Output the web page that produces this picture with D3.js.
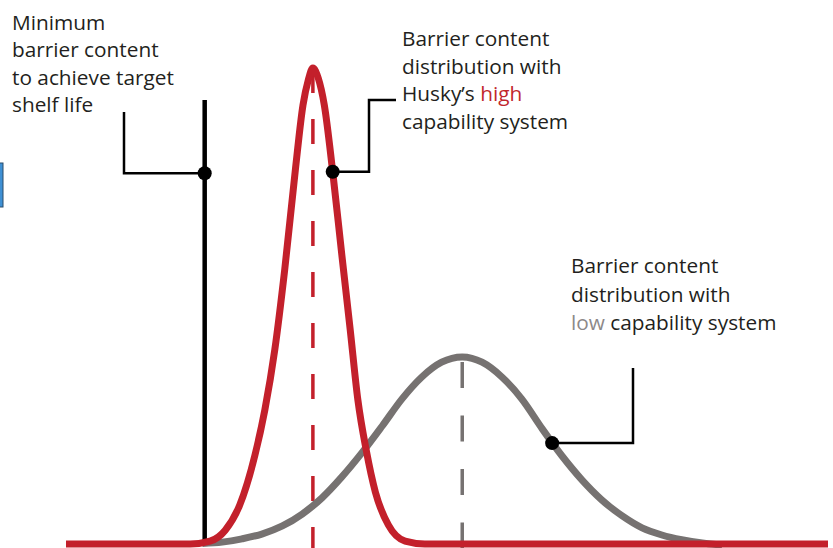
<!DOCTYPE html>
<html>
<head>
<meta charset="utf-8">
<script src="https://cdn.jsdelivr.net/npm/d3@7/dist/d3.min.js"></script>
<style>
  html, body { margin: 0; padding: 0; background: #ffffff; }
  svg { display: block; }
  text { font-family: "Open Sans", "Noto Sans", sans-serif; }
</style>
</head>
<body>
<svg id="chart" width="833" height="548"></svg>
<script>
// ---- Data ----
// x: barrier content (0–100 relative units), y: relative frequency (0–1)
const highCapX = [0, 16.3, 18.9, 20.9, 22.8, 24.8, 26.1, 27.4, 28.7, 30.1, 31.1, 31.8, 32.4, 33.1, 33.9, 35.0, 36.2, 37.3, 38.3, 39.4, 40.6, 42.3, 44.5, 47.1, 100];
const highCapY = [0, 0, 0.006, 0.029, 0.082, 0.187, 0.282, 0.408, 0.576, 0.786, 0.922, 0.975, 1.0, 0.979, 0.922, 0.782, 0.607, 0.450, 0.303, 0.197, 0.109, 0.040, 0.006, 0, 0];

const lowCapX = [17.9, 20.5, 23.1, 25.7, 28.4, 31.0, 33.6, 36.2, 38.9, 41.5, 44.1, 46.7, 49.3, 52.0, 54.6, 57.2, 59.8, 62.5, 65.1, 67.7, 70.3, 73.0, 75.6, 78.2, 80.8, 83.5, 86.1];
const lowCapY = [0.003, 0.006, 0.013, 0.023, 0.040, 0.065, 0.099, 0.143, 0.195, 0.250, 0.307, 0.353, 0.384, 0.395, 0.384, 0.353, 0.307, 0.244, 0.187, 0.137, 0.095, 0.061, 0.036, 0.021, 0.011, 0.004, 0];

const highCapMean = 32.4;
const lowCapMean = 52.0;
const minBarrier = 18.2;
const minBarrierTop = 0.933;

const labelMin = ["Minimum", "barrier content", "to achieve target", "shelf life"];
const labelHigh = [[["Barrier content", "dark"]], [["distribution with", "dark"]], [["Husky’s ", "dark"], ["high", "red"]], [["capability system", "dark"]]];
const labelLow = [[["Barrier content", "dark"]], [["distribution with", "dark"]], [["low", "grey"], [" capability system", "dark"]]];

// ---- Styles ----
const RED = "#c3202b";
const GREY = "#767271";
const DARK = "#231f20";
const textColors = { dark: DARK, red: "#c1272d", grey: "#8d8989" };

const svg = d3.select("#chart");
const x = d3.scaleLinear().domain([0, 100]).range([66, 828]);
const y = d3.scaleLinear().domain([0, 1]).range([544, 68]);

const highData = highCapX.map((v, i) => [v, highCapY[i]]);
const lowData = lowCapX.map((v, i) => [v, lowCapY[i]]);

const line = d3.line().x(d => x(d[0])).y(d => y(d[1])).curve(d3.curveMonotoneX);

// small blue tab at left edge
svg.append("rect").attr("x", -2).attr("y", 163).attr("width", 5).attr("height", 44)
  .attr("fill", "#3f90d4").attr("stroke", "#2b4d6b").attr("stroke-width", 1);

// minimum barrier line
svg.append("line")
  .attr("x1", x(minBarrier)).attr("x2", x(minBarrier))
  .attr("y1", y(minBarrierTop)).attr("y2", y(0))
  .attr("stroke", "#000").attr("stroke-width", 4.5);

// mean dashed lines
svg.append("line")
  .attr("x1", x(highCapMean)).attr("x2", x(highCapMean))
  .attr("y1", y(1)).attr("y2", 548)
  .attr("stroke", RED).attr("stroke-width", 3.5)
  .attr("stroke-dasharray", "25,26");
svg.append("line")
  .attr("x1", x(lowCapMean)).attr("x2", x(lowCapMean))
  .attr("y1", y(0.395) + 6).attr("y2", 548)
  .attr("stroke", GREY).attr("stroke-width", 3.5)
  .attr("stroke-dasharray", "26,27.5");

// curves
svg.append("path").datum(lowData).attr("d", line)
  .attr("fill", "none").attr("stroke", GREY).attr("stroke-width", 7)
  .attr("stroke-linecap", "butt").attr("transform", "translate(0,1)");
svg.append("path").datum(highData).attr("d", line)
  .attr("fill", "none").attr("stroke", RED).attr("stroke-width", 7)
  .attr("stroke-linejoin", "round");

// callouts
function callout(points) {
  svg.append("path")
    .attr("d", d3.line()(points))
    .attr("fill", "none").attr("stroke", "#000").attr("stroke-width", 2.5);
}
const minDot = [x(minBarrier), y(0.779)];
callout([[124, 112], [124, minDot[1]], minDot]);
const highDot = [x(35.0), y(0.782)];
callout([highDot, [369, highDot[1]], [369, 100], [396, 100]]);
const lowDot = [x(63.8), y(0.212)];
callout([lowDot, [633, lowDot[1]], [633, 368]]);

[minDot, highDot, lowDot].forEach(p => {
  svg.append("circle").attr("cx", p[0]).attr("cy", p[1]).attr("r", 7).attr("fill", "#000");
});

// labels
const FS = 20.8;
function block(lines, x0, y0, dy) {
  const t = svg.append("text").attr("font-size", FS).attr("fill", DARK);
  lines.forEach((ln, i) => {
    const segs = typeof ln === "string" ? [[ln, "dark"]] : ln;
    segs.forEach((s, j) => {
      const ts = t.append("tspan").text(s[0]).attr("fill", textColors[s[1]]);
      if (j === 0) ts.attr("x", x0).attr("y", y0 + i * dy);
    });
  });
}
block(labelMin, 12, 30, 27.4);
block(labelHigh, 402, 46, 27.7);
block(labelLow, 571, 273, 28.5);
</script>
</body>
</html>
